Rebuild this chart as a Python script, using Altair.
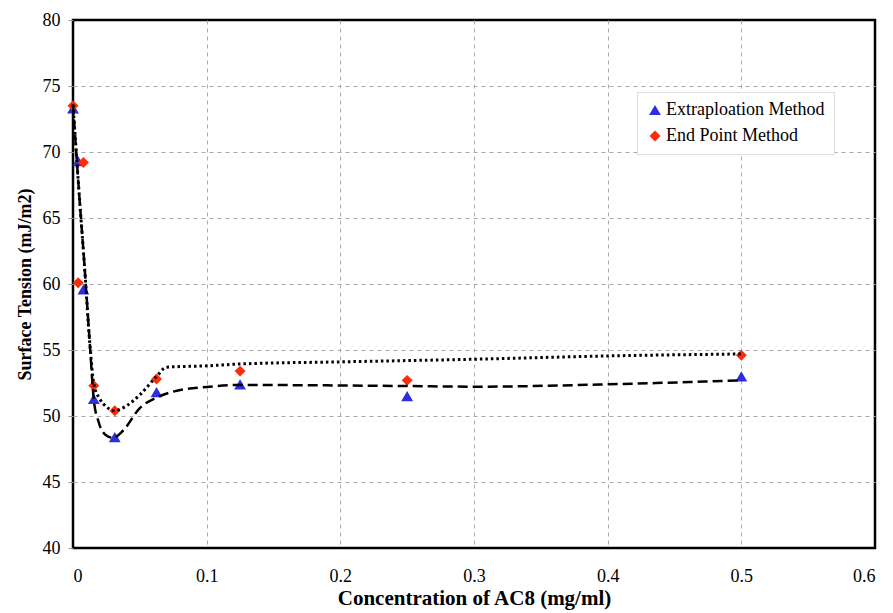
import altair as alt
import pandas as pd

# Measured surface tension against AC8 concentration
conc = [0, 0.0039, 0.0078, 0.0156, 0.03125, 0.0625, 0.125, 0.25, 0.5]
extrapolation = [73.3, 69.3, 59.6, 51.3, 48.4, 51.8, 52.4, 51.5, 53.0]
end_point = [73.5, 60.1, 69.2, 52.3, 50.4, 52.8, 53.4, 52.7, 54.6]

methods = ["Extraploation Method", "End Point Method"]

# Smoothed trend curves (dashed: extrapolation, dotted: end point)
dash_x = [0, 0.0047, 0.0085, 0.0125, 0.0156, 0.019, 0.024, 0.030, 0.0375,
          0.05, 0.0625, 0.075, 0.1, 0.125, 0.25, 0.3, 0.4, 0.5]
dash_y = [73.6, 66.7, 61.5, 55.6, 51.2, 49.6, 48.6, 48.35, 48.9,
          50.6, 51.4, 51.85, 52.2, 52.35, 52.27, 52.22, 52.4, 52.7]
dot_x = [0, 0.0047, 0.0085, 0.0125, 0.0156, 0.020, 0.025, 0.031, 0.037,
         0.050, 0.0625, 0.07, 0.1, 0.125, 0.2, 0.3, 0.4, 0.5]
dot_y = [73.6, 66.7, 61.5, 55.6, 52.4, 51.3, 50.7, 50.4, 50.6,
         51.6, 53.0, 53.7, 53.8, 53.94, 54.1, 54.3, 54.55, 54.7]

points = pd.DataFrame({
    "conc": conc * 2,
    "tension": extrapolation + end_point,
    "method": [methods[0]] * len(conc) + [methods[1]] * len(conc),
})
dash_df = pd.DataFrame({"conc": dash_x, "tension": dash_y})
dot_df = pd.DataFrame({"conc": dot_x, "tension": dot_y})

SERIF = "Liberation Serif, Times New Roman, serif"

x_scale = alt.Scale(domain=[0, 0.6], nice=False, zero=False)
y_scale = alt.Scale(domain=[40, 80], nice=False, zero=False)

# hide grid lines that would sit on the frame
x_grid_op = {"condition": {"test": "datum.value <= 0 || datum.value >= 0.6", "value": 0}, "value": 1}
y_grid_op = {"condition": {"test": "datum.value <= 40 || datum.value >= 80", "value": 0}, "value": 1}

x_enc = alt.X("conc:Q", scale=x_scale,
              axis=alt.Axis(title="Concentration of AC8 (mg/ml)",
                            values=[0, 0.1, 0.2, 0.3, 0.4, 0.5, 0.6],
                            format="~g", ticks=False, labelPadding=19,
                            titlePadding=2, labelFontSize=18, titleFontSize=21,
                            gridOpacity=x_grid_op))
y_enc = alt.Y("tension:Q", scale=y_scale,
              axis=alt.Axis(title="Surface Tension (mJ/m2)",
                            values=list(range(40, 81, 5)),
                            tickSize=5, labelPadding=8, titlePadding=8,
                            labelFontSize=18, titleFontSize=18,
                            gridOpacity=y_grid_op))

markers = alt.Chart(points).mark_point(filled=True, opacity=1).encode(
    x=x_enc,
    y=y_enc,
    color=alt.Color("method:N",
                    scale=alt.Scale(domain=methods, range=["#2e2ee0", "#fa2c0c"]),
                    legend=alt.Legend(orient="none", legendX=564, legendY=72,
                                      title=None, direction="vertical",
                                      fillColor="white", strokeColor="#dddddd",
                                      padding=9, labelFont=SERIF, labelFontSize=18,
                                      labelColor="black", symbolSize=110,
                                      symbolStrokeWidth=0, rowPadding=8,
                                      labelOffset=2)),
    shape=alt.Shape("method:N",
                    scale=alt.Scale(domain=methods, range=["triangle-up", "diamond"]),
                    legend=None),
    size=alt.Size("method:N",
                  scale=alt.Scale(domain=methods, range=[140, 120]),
                  legend=None),
)

dashed = alt.Chart(dash_df).mark_line(
    color="black", strokeWidth=2.5, strokeDash=[10, 5], interpolate="monotone"
).encode(x="conc:Q", y="tension:Q")

dotted = alt.Chart(dot_df).mark_line(
    color="black", strokeWidth=3, strokeDash=[2.5, 3], interpolate="monotone"
).encode(x="conc:Q", y="tension:Q")

chart = alt.layer(markers, dashed, dotted).properties(
    width=802,
    height=528,
    autosize=alt.AutoSizeParams(type="none"),
    padding={"left": 73, "top": 20, "right": 18, "bottom": 65},
    background="white",
).configure_view(
    stroke="black", strokeWidth=2.5
).configure_axis(
    domain=False,
    grid=True,
    gridColor="#aaaaaa",
    gridDash=[4, 4],
    gridWidth=1,
    tickColor="#999999",
    labelFont=SERIF,
    titleFont=SERIF,
    labelColor="black",
    titleColor="black",
    titleFontWeight="bold",
)

chart.save("out.html", embed_options={"renderer": "svg", "actions": False})
